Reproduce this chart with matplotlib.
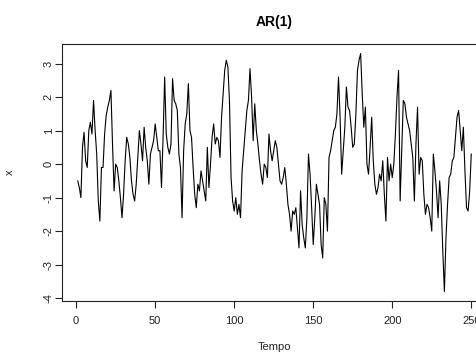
import matplotlib
matplotlib.use('Agg')
import matplotlib.pyplot as plt
import numpy as np

# AR(1) series, t = 1..250
x_vals = [
    -0.5, -0.7, -1.0, 0.5, 0.95, 0.1, -0.1, 1.0, 1.25, 0.9,
    1.9, 1.0, 0.3, -1.1, -1.7, -0.1, -0.1, 0.9, 1.45, 1.7,
    1.9, 2.2, 0.6, -0.8, 0.0, -0.1, -0.5, -1.0, -1.6, -0.9,
    0.1, 0.8, 0.6, 0.2, -0.5, -0.9, -1.1, -0.6, 0.2, 1.0,
    0.6, 0.1, 1.1, 0.5, 0.1, -0.6, 0.3, 0.5, 0.7, 1.2,
    0.8, 0.4, 0.4, -0.7, 0.8, 2.6, 0.9, 0.5, 0.3, 0.6,
    2.55, 1.9, 1.8, 1.6, 0.3, -0.1, -1.6, 0.4, 1.2, 1.5,
    2.4, 1.0, 0.8, -0.1, -0.9, -1.3, -0.6, -0.8, -0.2, -0.5,
    -0.8, -1.1, 0.5, -0.7, 0.0, 0.8, 1.2, 0.6, 0.8, 0.7,
    0.2, 1.4, 2.1, 2.8, 3.1, 2.9, 1.9, -0.4, -1.1, -1.4,
    -1.0, -1.5, -1.2, -1.6, -0.2, 0.4, 1.0, 1.6, 1.9, 2.85,
    2.0, 0.7, 1.8, 1.0, 0.6, 0.1, -0.3, -0.6, 0.0, -0.1,
    -0.4, 0.9, 0.4, 0.1, 0.4, 0.7, 0.5, 0.0, -0.5, -0.6,
    -0.4, -0.1, -0.6, -1.2, -1.5, -2.0, -1.4, -1.5, -1.3, -1.9,
    -2.5, -0.8, -1.8, -2.2, -2.5, -1.6, 0.3, -0.3, -1.3, -2.4,
    -1.6, -0.6, -0.9, -1.2, -2.4, -2.8, -1.0, -1.2, -2.0, 0.2,
    0.4, 0.7, 1.0, 1.1, 1.5, 2.6, 1.4, -0.3, 0.4, 1.1,
    2.3, 1.7, 1.6, 1.1, 0.5, 0.6, 1.5, 2.8, 3.1, 3.3,
    2.1, 1.1, 1.7, 0.0, -0.3, 0.5, 1.4, 0.1, -0.6, -0.9,
    -0.7, -0.3, -0.5, 0.1, -0.9, -1.7, 0.2, -0.5, 0.0, -0.4,
    0.0, 0.9, 2.0, 2.8, -1.1, 0.4, 1.9, 1.8, 1.4, 1.2,
    1.0, 0.6, 0.2, -1.1, 0.6, 1.7, -0.3, 0.2, 0.1, -0.9,
    -1.5, -1.2, -1.3, -1.6, -2.0, 0.3, -0.2, -0.8, -1.6, -0.5,
    -1.2, -2.6, -3.8, -2.2, -1.2, -0.4, -0.3, 0.1, 0.2, 0.8,
    1.4, 1.6, 1.0, 0.4, 1.1, -0.2, -1.3, -1.4, -0.8, 0.3,
]
tempo = np.arange(1, len(x_vals) + 1)

x_ticks = [0, 50, 100, 150, 200, 250]
y_ticks = [-4, -3, -2, -1, 0, 1, 2, 3]

plt.rcParams['font.family'] = ['Liberation Sans', 'DejaVu Sans']

fig = plt.figure(figsize=(4.77, 3.55), dpi=100)
# right edge of the box runs past the image, as in the original
ax = fig.add_axes([62 / 477, 1 - 301 / 355, (487 - 62) / 477, (301 - 44) / 355])
ax.plot(tempo, x_vals, color='black', lw=0.8)

# R-style 4% padding
pad_x = 0.04 * (tempo[-1] - tempo[0])
ax.set_xlim(tempo[0] - pad_x, tempo[-1] + pad_x)
ymin, ymax = min(x_vals), max(x_vals)
pad_y = 0.04 * (ymax - ymin)
ax.set_ylim(ymin - pad_y, ymax + pad_y)

ax.set_xticks(x_ticks)
ax.set_yticks(y_ticks)
ax.set_yticklabels([str(v) for v in y_ticks], rotation=90, va='center')
ax.tick_params(direction='out', length=5, width=0.8, labelsize=8, colors='#222222')
ax.tick_params(axis='x', pad=6)
ax.tick_params(axis='y', pad=1)
for s in ax.spines.values():
    s.set_linewidth(0.8)
    s.set_color('#222222')

ax.set_title('AR(1)', fontsize=10, fontweight='bold', pad=13)
ax.set_xlabel('Tempo', fontsize=8, color='#222222', labelpad=11)
ax.set_ylabel('x', fontsize=8, color='#222222', labelpad=21)

fig.savefig('out.png', dpi=100)
